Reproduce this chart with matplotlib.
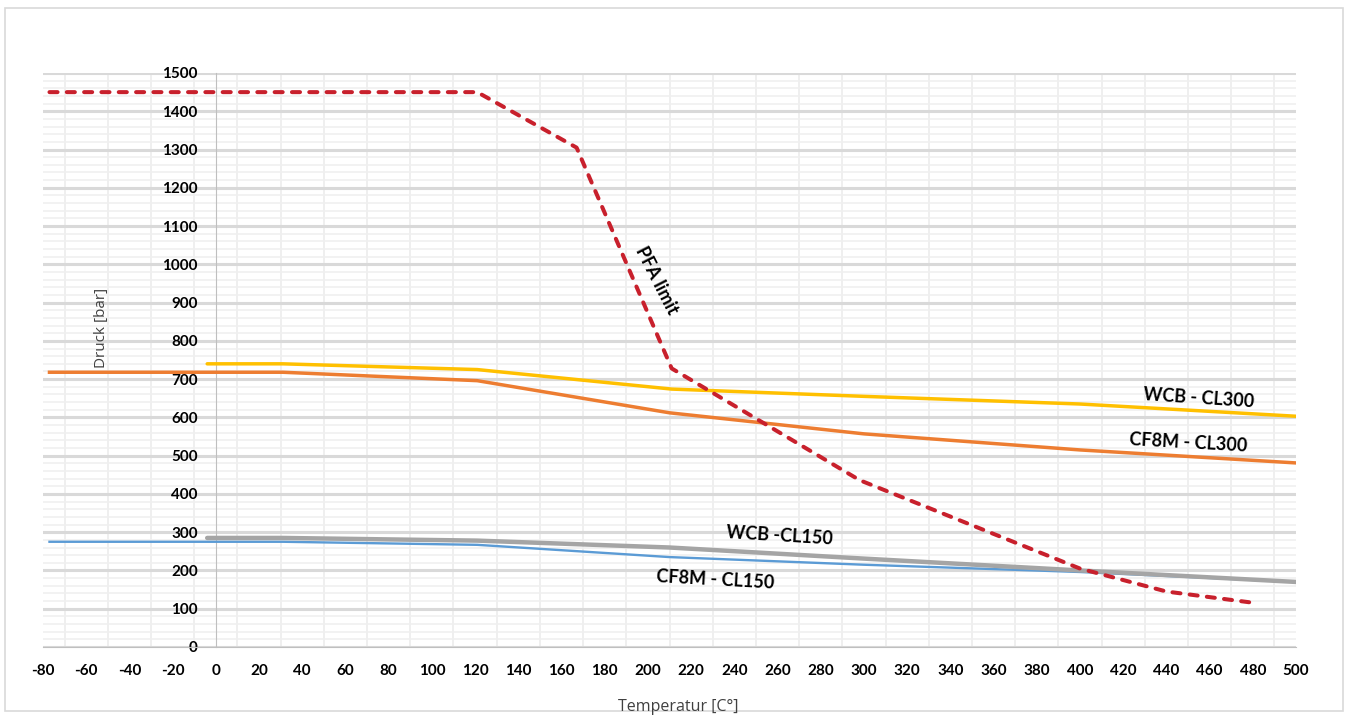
import matplotlib
matplotlib.use("Agg")
import matplotlib.pyplot as plt
from matplotlib.patches import Rectangle

plt.rcParams['font.family'] = ['Lato', 'DejaVu Sans']
plt.rcParams['axes.unicode_minus'] = False

# Temperatur [C°] / Druck [bar]
pfa_x = [-77, 121, 167, 211, 298, 400, 440, 481]
pfa_y = [1450, 1450, 1305, 728, 436, 205, 145, 115]

cf8m300_x = [-77, 31, 121, 210, 300, 400, 500]
cf8m300_y = [718, 718, 696, 612, 557, 515, 481]

wcb300_x = [-4, 31, 121, 211, 300, 400, 500]
wcb300_y = [740, 740, 725, 674, 655, 635, 603]

wcb150_x = [-4, 31, 121, 210, 300, 400, 500]
wcb150_y = [285, 285, 278, 260, 231, 200, 170]

cf8m150_x = [-77, 31, 121, 210, 300, 400, 500]
cf8m150_y = [275, 275, 267, 235, 215, 196, 170]

x_ticks = list(range(-80, 501, 20))
y_ticks = list(range(0, 1501, 100))

fig = plt.figure(figsize=(13.49, 7.16), dpi=100)
ax = fig.add_axes([43/1349, 1-647/716, (1296-43)/1349, (647-73)/716])

# rahmen
fig.patches.append(Rectangle((5/1349, 1-711/716), 1338/1349, 703/716,
                             transform=fig.transFigure, fill=False,
                             edgecolor='#d9d9d9', lw=1.2))

ax.plot(cf8m150_x, cf8m150_y, color='#5b9bd5', lw=1.7, solid_joinstyle='round', zorder=3)
ax.plot(wcb150_x, wcb150_y, color='#a5a5a5', lw=3.2, solid_joinstyle='round',
        solid_capstyle='round', zorder=3)
ax.plot(cf8m300_x, cf8m300_y, color='#ed7d31', lw=2.5, solid_joinstyle='round', zorder=3)
ax.plot(wcb300_x, wcb300_y, color='#ffc000', lw=2.5, solid_joinstyle='round',
        solid_capstyle='round', zorder=3)
ax.plot(pfa_x, pfa_y, color='#c8202c', lw=2.9, dashes=(2.0, 2.3),
        dash_capstyle='round', dash_joinstyle='round', zorder=4)

ax.set_xlim(-80, 500)
ax.set_ylim(0, 1500)
ax.set_xticks(x_ticks)
ax.set_yticks(y_ticks)
ax.set_xticks(list(range(-70, 500, 20)), minor=True)
ax.set_yticks(list(range(0, 1501, 20)), minor=True)

ax.grid(which='major', axis='y', color='#d9d9d9', lw=2.2)
ax.grid(which='minor', axis='y', color='#f0f0f0', lw=1.2)
ax.grid(which='minor', axis='x', color='#eeeeee', lw=1.3)
ax.set_axisbelow(True)

for s in ['top', 'right']:
    ax.spines[s].set_visible(False)
ax.spines['left'].set_position(('data', 0))
ax.spines['left'].set_color('#bfbfbf')
ax.spines['bottom'].set_color('#bfbfbf')
ax.spines['left'].set_zorder(2)

ax.tick_params(which='both', length=0)
ax.tick_params(axis='y', pad=13, labelsize=11)
ax.tick_params(axis='x', pad=12, labelsize=11)
for lab in ax.get_xticklabels() + ax.get_yticklabels():
    lab.set_fontweight('bold')

# beschriftung der kurven
txt = dict(fontsize=13, fontweight='bold', color='black', ha='center', va='center')
ax.text(204, 959, 'PFA limit', rotation=-63, **txt)
ax.text(455, 651, 'WCB - CL300', rotation=-3.8, **txt)
ax.text(450, 533, 'CF8M - CL300', rotation=-3.2, **txt)
ax.text(261, 290, 'WCB -CL150', rotation=-3.5, **txt)
ax.text(231, 175, 'CF8M - CL150', rotation=-3.2, **txt)

fig.text(102/1349, 1-328/716, 'Druck [bar]', rotation=90, ha='center', va='center',
         fontsize=11, color='#404040', family=['Open Sans', 'DejaVu Sans'])
fig.text(678/1349, 1-711/716, 'Temperatur [C°]', ha='center', va='baseline',
         fontsize=11.5, color='#404040', family=['Open Sans', 'DejaVu Sans'])

fig.savefig('out.png', dpi=100)
